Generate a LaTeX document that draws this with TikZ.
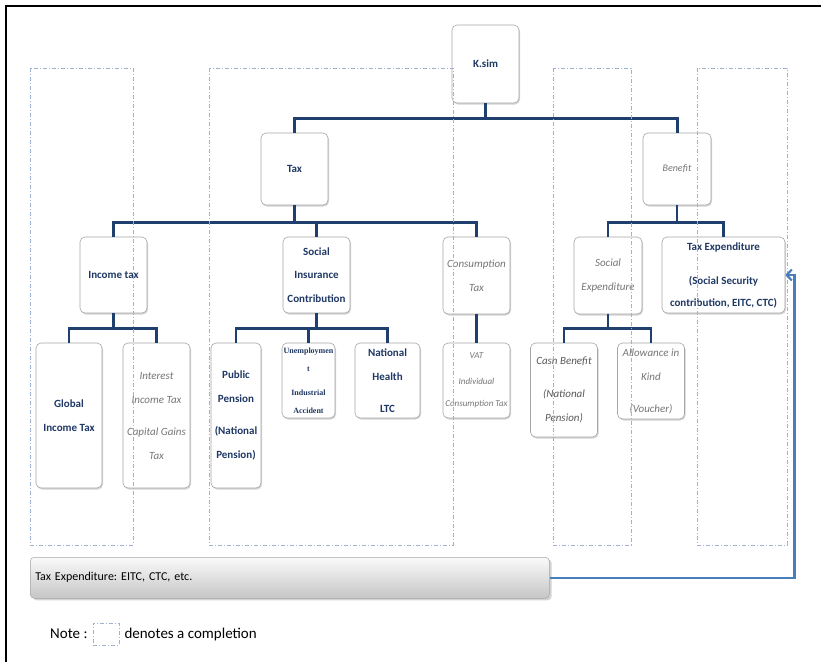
\documentclass[tikz,border=0pt]{standalone}
\usepackage{fontspec}
\setmainfont{Carlito}
\newfontfamily\serifbold{Liberation Serif}
\usepackage{xcolor}
\usetikzlibrary{positioning,arrows.meta,shadows}
\frenchspacing

\definecolor{navytext}{HTML}{1F3864}
\definecolor{linkblue}{HTML}{1F3F6E}
\definecolor{softgray}{HTML}{767676}
\definecolor{darkgray}{HTML}{595959}
\definecolor{boxline}{HTML}{A6A6A6}
\definecolor{dashblue}{HTML}{9DB3CF}
\definecolor{feedblue}{HTML}{4A7EBB}

\tikzset{
  box/.style={draw=boxline, line width=0.6pt, rounded corners=5pt, fill=white,
    drop shadow={opacity=0.35, shadow xshift=1pt, shadow yshift=-1.5pt},
    align=center, inner sep=1pt},
  lbl/.style={font=\fontsize{11}{24}\selectfont\bfseries, text=navytext},
  soft/.style={font=\fontsize{11}{24}\selectfont\itshape, text=softgray},
  link/.style={draw=linkblue, line width=2.4pt},
  completion/.style={draw=dashblue, line width=0.6pt,
    dash pattern=on 4pt off 2pt on 1pt off 2pt},
  feed/.style={draw=feedblue, line width=2.2pt}
}

\begin{document}
\begin{tikzpicture}[x=1pt, y=-1pt]
    \useasboundingbox (0,0) rectangle (821,662);
    % frame
    \draw[line width=1.2pt] (821,6) -- (6,6) -- (6,662);

    % top level
    \node[box, lbl, minimum width=67pt, minimum height=78pt] (ksim) at (485.5,64) {K.sim};
    \node[box, lbl, minimum width=67pt, minimum height=72pt] (tax) at (294.5,169) {Tax};
    \node[box, soft, font=\fontsize{10}{24}\selectfont\itshape, minimum width=68pt,
      minimum height=72pt] (benefit) at (677,169) {Benefit};

    % tax branch
    \node[box, lbl, minimum width=67pt, minimum height=76pt] (inctax) at (113.5,275) {Income tax};
    \node[box, lbl, font=\fontsize{11}{23.5}\selectfont\bfseries, minimum width=67pt,
      minimum height=76pt] (sic) at (316.5,275) {Social\\Insurance\\Contribution};
    \node[box, soft, minimum width=67pt, minimum height=77pt] (constax) at (476.5,275.5)
      {Consumption\\Tax};

    % benefit branch
    \node[box, soft, minimum width=68pt, minimum height=77pt] (socexp) at (608,275.5)
      {Social\\Expenditure};
    \node[box, lbl, font=\fontsize{11}{22}\selectfont\bfseries, minimum width=123pt,
      minimum height=76pt] (taxexp) at (723.5,275)
      {Tax Expenditure\\[12pt](Social Security\\contribution, EITC, CTC)};

    % leaves
    \node[box, lbl, minimum width=66pt, minimum height=145pt] (global) at (69,415.5)
      {Global\\Income Tax};
    \node[box, soft, minimum width=67pt, minimum height=145pt] (interest) at (156.5,415.5)
      {Interest\\Income Tax\\[8pt]Capital Gains\\Tax};
    \node[box, lbl, minimum width=50pt, minimum height=145pt] (pension) at (236,415.5)
      {Public\\Pension\\[8pt](National\\Pension)};
    \node[box, text=navytext, font=\fontsize{8}{18}\serifbold\bfseries, minimum width=53pt,
      minimum height=75pt] (unemp) at (308.5,380.5)
      {Unemploymen\\t\\[6pt]Industrial\\Accident};
    \node[box, lbl, minimum width=65pt, minimum height=75pt] (health) at (387.5,380.5)
      {National\\Health\\[8pt]LTC};
    \node[box, soft, font=\fontsize{9}{22}\selectfont\itshape, minimum width=67pt,
      minimum height=75pt] (vat) at (476.5,380.5)
      {VAT\\[4pt]Individual\\Consumption Tax};
    \node[box, soft, text=darkgray, minimum width=67pt, minimum height=94pt] (cash) at (564,390)
      {Cash Benefit\\[9pt](National\\Pension)};
    \node[box, soft, minimum width=67pt, minimum height=76pt] (kind) at (651,381)
      {Allowance in\\Kind\\[8pt](Voucher)};

    % connectors
    \draw[link, line width=3pt] (ksim.south) -- ++(0,15) -| (tax.north);
    \draw[link, line width=3pt] (ksim.south) -- ++(0,15) -| (benefit.north);
    \foreach \child in {inctax, sic, constax}
      \draw[link] (tax.south) -- ++(0,17) -| (\child.north);
    \foreach \child in {socexp, taxexp}
      \draw[link] (benefit.south) -- ++(0,17) -| (\child.north);
    \foreach \child in {global, interest}
      \draw[link] (inctax.south) -- ++(0,15) -| (\child.north);
    \foreach \child in {pension, unemp, health}
      \draw[link] (sic.south) -- ++(0,15) -| (\child.north);
    \draw[link] (constax.south) -- (vat.north);
    \foreach \child in {cash, kind}
      \draw[link] (socexp.south) -- ++(0,14) -| (\child.north);

    % completion areas
    \draw[completion] (30,68) rectangle (133,545);
    \draw[completion] (209,68) rectangle (453,545);
    \draw[completion] (553,68) rectangle (631,545);
    \draw[completion] (697,68) rectangle (787,545);

    % bottom banner
    \node[draw=boxline, line width=0.5pt, rounded corners=4pt, top color=gray!4,
      bottom color=gray!45, drop shadow={opacity=0.35, shadow yshift=-2pt},
      minimum width=519pt, minimum height=41pt, text width=509pt, align=left,
      inner xsep=5pt, font=\fontsize{12}{14}\selectfont, anchor=north west]
      (banner) at (30,557) {Tax Expenditure: EITC, CTC, etc.};
    \draw[feed, -{Straight Barb[length=5pt, width=11pt]}]
      (banner.east) -- ++(245,0) |- (taxexp.east);

    % note
    \node[font=\fontsize{15}{18}\selectfont, anchor=west, inner sep=0pt] (notelbl) at (50,634) {Note :};
    \node[completion, minimum width=26pt, minimum height=22pt, inner sep=0pt,
      right=5pt of notelbl] (notebox) {};
    \node[font=\fontsize{15}{18}\selectfont, anchor=west, inner sep=0pt,
      right=5pt of notebox] (notetxt) {denotes a completion};
\end{tikzpicture}
\end{document}
